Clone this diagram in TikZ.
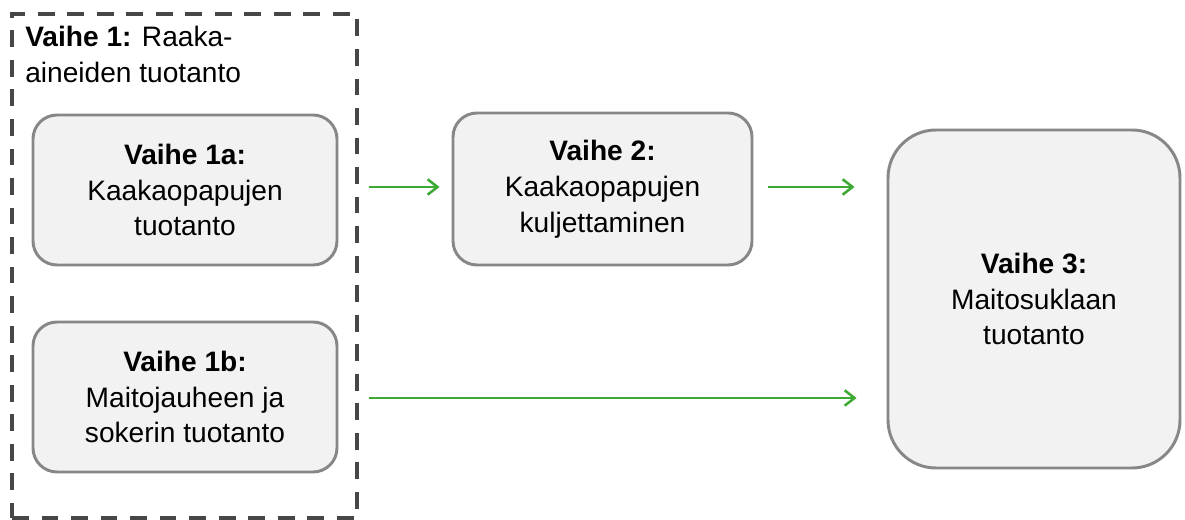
\documentclass[tikz,border=0pt]{standalone}
\usepackage{fontspec}
\setmainfont{Liberation Sans}
\usetikzlibrary{arrows.meta}
\definecolor{boxgray}{HTML}{F2F2F2}
\definecolor{linegray}{HTML}{878787}
\definecolor{dashgray}{HTML}{474747}
\definecolor{arrowgreen}{HTML}{3CAA32}
\tikzset{
  phase/.style={draw=linegray, line width=2.1pt, fill=boxgray, rounded corners=0.6cm,
    align=center, font=\fontsize{20}{25.5}\selectfont},
  flow/.style={draw=arrowgreen, line width=1.8pt, -{Straight Barb[length=7pt,width=11pt]}},
}
\begin{document}
\begin{tikzpicture}
\useasboundingbox (0,0) rectangle (29.625,13);
% vaihe 1 frame
\node (frame) at (4.6125,6.35) [draw=dashgray, line width=2.6pt, dash pattern=on 12pt off 9pt,
  minimum width=8.625cm, minimum height=12.6cm] {};
\node (title) at (0.625,12.35) [anchor=north west, inner sep=0pt, align=left,
  font=\fontsize{20}{25.5}\selectfont] {\textbf{Vaihe 1:} Raaka-\\aineiden tuotanto};
%
\node (v1a) at (4.625,8.25) [phase, minimum width=7.6cm, minimum height=3.75cm]
  {\textbf{Vaihe 1a:}\\Kaakaopapujen\\tuotanto};
\node (v1b) at (4.625,3.075) [phase, minimum width=7.6cm, minimum height=3.75cm]
  {\textbf{Vaihe 1b:}\\Maitojauheen ja\\sokerin tuotanto};
\node (v2) at (15.0625,8.275) [phase, minimum width=7.475cm, minimum height=3.8cm]
  {\textbf{Vaihe 2:}\\Kaakaopapujen\\kuljettaminen};
\node (v3) at (25.85,5.525) [phase, rounded corners=1.2cm, minimum width=7.3cm, minimum height=8.45cm]
  {\textbf{Vaihe 3:}\\Maitosuklaan\\tuotanto};
%
\draw[flow, shorten <=0.25cm, shorten >=0.3cm] (frame.east |- 0,8.325) -- (v2.west |- 0,8.325);
\draw[flow, shorten <=0.375cm, shorten >=0.8cm] (v2.east |- 0,8.325) -- (v3.west |- 0,8.325);
\draw[flow, shorten <=0.25cm, shorten >=0.75cm] (frame.east |- 0,3.05) -- (v3.west |- 0,3.05);
\end{tikzpicture}
\end{document}
